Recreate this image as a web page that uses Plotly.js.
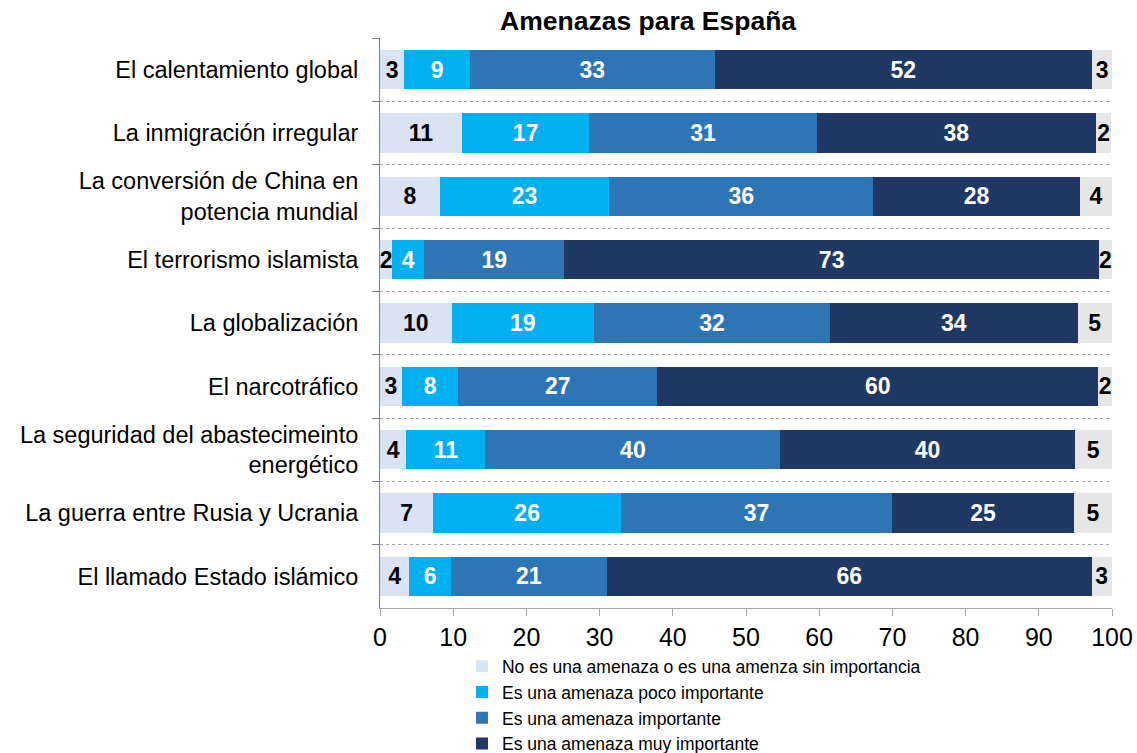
<!DOCTYPE html>
<html>
<head>
<meta charset="utf-8">
<script src="https://cdn.plot.ly/plotly-3.0.1.min.js"></script>
<style>
html,body{margin:0;padding:0;background:#fff;}
#chart{width:1137px;height:753px;}
</style>
</head>
<body>
<div id="chart"></div>
<script>
var categories = [
  "El calentamiento global",
  "La inmigración irregular",
  "La conversión de China en<br>potencia mundial",
  "El terrorismo islamista",
  "La globalización",
  "El narcotráfico",
  "La seguridad del abastecimeinto<br>energético",
  "La guerra entre Rusia y Ucrania",
  "El llamado Estado islámico"
];
var seriesNames = [
  "No es una amenaza o es una amenza sin importancia",
  "Es una amenaza poco importante",
  "Es una amenaza importante",
  "Es una amenaza muy importante",
  "NS/NC"
];
var sinImportancia = [3.3, 11.2, 8.2, 1.7, 9.8, 3.0, 3.6, 7.3, 4.0];
var pocoImportante = [9.0, 17.4, 23.1, 4.3, 19.4, 7.7, 10.8, 25.6, 5.7];
var importante     = [33.4, 31.1, 36.1, 19.2, 32.3, 27.2, 40.3, 37.1, 21.3];
var muyImportante  = [51.6, 38.1, 28.2, 73.0, 33.8, 60.2, 40.2, 24.8, 66.2];
var nsnc           = [2.7, 2.1, 4.4, 1.8, 4.7, 1.9, 5.1, 5.2, 2.8];
var xTicks = [0, 10, 20, 30, 40, 50, 60, 70, 80, 90, 100];

var colors = ["#DAE3F3", "#00B0F0", "#2E75B6", "#203864", "#E7E6E6"];
var textColors = ["#000000", "#ffffff", "#ffffff", "#ffffff", "#000000"];
var allSeries = [sinImportancia, pocoImportante, importante, muyImportante, nsnc];

var traces = allSeries.map(function(vals, i){
  return {
    type: "bar",
    orientation: "h",
    name: seriesNames[i],
    x: vals,
    y: categories,
    marker: {color: colors[i], line: {width: 0}},
    texttemplate: "%{x:.0f}",
    textposition: "inside",
    insidetextanchor: "middle",
    constraintext: "none",
    textangle: 0,
    textfont: {family: "Liberation Sans, Arial, sans-serif", size: 23, color: textColors[i], weight: "bold"},
    showlegend: i < 4,
    hoverinfo: "x+name"
  };
});

var layout = {
  width: 1137,
  height: 753,
  barmode: "stack",
  bargap: 0.38,
  paper_bgcolor: "#ffffff",
  plot_bgcolor: "#ffffff",
  margin: {l: 380, r: 25, t: 38, b: 145, autoexpand: false},
  font: {family: "Liberation Sans, Arial, sans-serif", color: "#000000"},
  title: {
    text: "<b>Amenazas para España</b>",
    font: {size: 26.5, color: "#000000", family: "Liberation Sans, Arial, sans-serif"},
    xref: "container", x: 0.57, xanchor: "center",
    yref: "container", y: 0.972, yanchor: "middle"
  },
  xaxis: {
    range: [0, 100],
    tickvals: xTicks,
    ticktext: xTicks.map(String),
    showgrid: false,
    zeroline: false,
    showline: true,
    linecolor: "#A6A6A6",
    linewidth: 1,
    ticks: "outside",
    ticklen: 7,
    tickcolor: "#A6A6A6",
    tickfont: {size: 25, color: "#000000"},
    fixedrange: true
  },
  yaxis: {
    autorange: "reversed",
    type: "category",
    tickson: "boundaries",
    ticks: "outside",
    ticklen: 7,
    tickcolor: "#808080",
    showline: true,
    linecolor: "#808080",
    linewidth: 1,
    showgrid: true,
    gridcolor: "#A6A6A6",
    griddash: "dot",
    gridwidth: 1,
    zeroline: false,
    tickfont: {size: 23.5, color: "#000000"},
    ticklabelstandoff: 16,
    fixedrange: true
  },
  legend: {
    orientation: "v",
    x: 0.112, xanchor: "left",
    y: -0.071, yanchor: "top",
    font: {size: 17.5, color: "#000000"},
    bgcolor: "rgba(0,0,0,0)",
    traceorder: "normal",
    itemclick: false
  }
};

Plotly.newPlot("chart", traces, layout, {displayModeBar: false, staticPlot: true});
</script>
</body>
</html>
